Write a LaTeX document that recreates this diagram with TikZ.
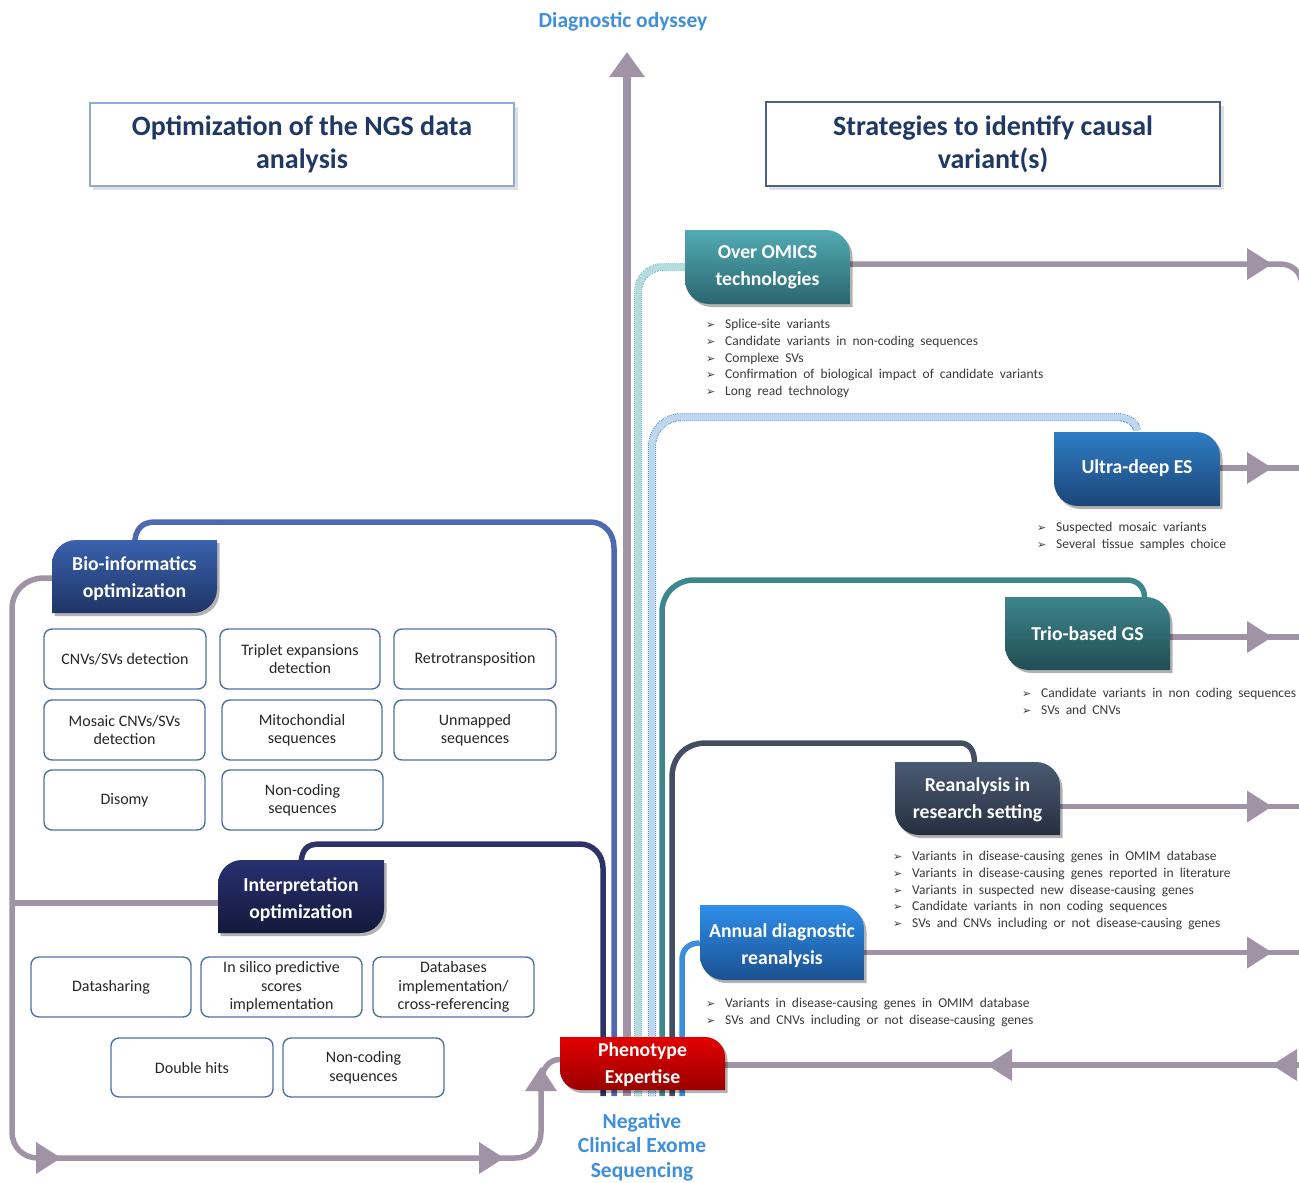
\documentclass[tikz,border=0pt]{standalone}
\usepackage{fontspec}
\setmainfont{Carlito}
\newfontfamily\dejavu{DejaVu Sans}
\newfontfamily\bulfont[WordSpace=2]{Carlito}
\usetikzlibrary{arrows.meta}
\pgfdeclarelayer{lines}
\pgfdeclarelayer{boxes}
\pgfsetlayers{lines,boxes,main}

\definecolor{greyc}{HTML}{A093A5}
\definecolor{navyT}{HTML}{1F3864}
\definecolor{skyT}{HTML}{3F8FDB}
\definecolor{sbc}{HTML}{4F72A6}
\definecolor{ttlA}{HTML}{8EAADB}
\definecolor{ttlB}{HTML}{4A5F96}
\definecolor{bioL}{HTML}{4E69AF}
\definecolor{bioT}{HTML}{3A62AE}
\definecolor{bioB}{HTML}{1F3566}
\definecolor{intL}{HTML}{2D3366}
\definecolor{intT}{HTML}{283070}
\definecolor{intB}{HTML}{141A3C}
\definecolor{omT}{HTML}{52ABB3}
\definecolor{omB}{HTML}{2B666F}
\definecolor{omL}{HTML}{B4DCDF}
\definecolor{omD}{HTML}{6DB4BB}
\definecolor{ulT}{HTML}{2F7DC4}
\definecolor{ulB}{HTML}{1C4678}
\definecolor{ulL}{HTML}{BFD7EE}
\definecolor{ulD}{HTML}{4F8FD0}
\definecolor{trT}{HTML}{3D868C}
\definecolor{trB}{HTML}{214D53}
\definecolor{trL}{HTML}{3E878D}
\definecolor{reT}{HTML}{4B5B73}
\definecolor{reB}{HTML}{262F40}
\definecolor{reL}{HTML}{434E63}
\definecolor{anT}{HTML}{2E8FEA}
\definecolor{anB}{HTML}{1B5090}
\definecolor{anL}{HTML}{3A8EDC}
\definecolor{phT}{HTML}{E30000}
\definecolor{phB}{HTML}{9A0000}
\definecolor{bulT}{HTML}{3A3A3A}

% box with top-right and bottom-left corners rounded
\newcommand\boxTR[7]{%
 \begin{scope}[shift={(2.5,3)}]
 \fill[black,opacity=.3] (#1,#2) -- (#3-#5,#2) .. controls (#3-0.45*#5,#2) and (#3,#2+0.45*#5) .. (#3,#2+#5) -- (#3,#4) -- (#1+#5,#4) .. controls (#1+0.45*#5,#4) and (#1,#4-0.45*#5) .. (#1,#4-#5) -- cycle;
 \end{scope}
 \shade[top color=#6,bottom color=#7] (#1,#2) -- (#3-#5,#2) .. controls (#3-0.45*#5,#2) and (#3,#2+0.45*#5) .. (#3,#2+#5) -- (#3,#4) -- (#1+#5,#4) .. controls (#1+0.45*#5,#4) and (#1,#4-0.45*#5) .. (#1,#4-#5) -- cycle;}
% box with top-left and bottom-right corners rounded
\newcommand\boxTL[7]{%
 \begin{scope}[shift={(2.5,3)}]
 \fill[black,opacity=.3] (#1,#2+#5) .. controls (#1,#2+0.45*#5) and (#1+0.45*#5,#2) .. (#1+#5,#2) -- (#3,#2) -- (#3,#4-#5) .. controls (#3,#4-0.45*#5) and (#3-0.45*#5,#4) .. (#3-#5,#4) -- (#1,#4) -- cycle;
 \end{scope}
 \shade[top color=#6,bottom color=#7] (#1,#2+#5) .. controls (#1,#2+0.45*#5) and (#1+0.45*#5,#2) .. (#1+#5,#2) -- (#3,#2) -- (#3,#4-#5) .. controls (#3,#4-0.45*#5) and (#3-0.45*#5,#4) .. (#3-#5,#4) -- (#1,#4) -- cycle;}
\newcommand\dotline[3]{%
 \draw[#2, line width=8pt, dash pattern=on 1pt off 1pt] #3;
 \draw[#1, line width=6pt] #3;}
\newcommand\tipR[2]{\fill[greyc] (#1,#2) -- (#1-25,#2-16) -- (#1-25,#2+16) -- cycle;}
\newcommand\tipL[2]{\fill[greyc] (#1,#2) -- (#1+25,#2-16) -- (#1+25,#2+16) -- cycle;}
\newcommand\tipU[2]{\fill[greyc] (#1,#2) -- (#1-16,#2+24) -- (#1+16,#2+24) -- cycle;}
\newcommand\bul{\makebox[19pt][l]{\dejavu\fontsize{11}{11}\selectfont ➢}}

\begin{document}
\begin{tikzpicture}[x=1pt,y=-1pt,
  hdr/.style={text=white, font=\bfseries\fontsize{19.7}{27}\selectfont, align=center, inner sep=0pt, minimum width=165pt, minimum height=73pt},
  sbox/.style={draw=sbc, line width=1.4pt, rounded corners=8pt, fill=white, minimum width=161pt, minimum height=60pt, align=center, font=\fontsize{16}{18.5}\selectfont, inner sep=2pt, text=black!85},
  ttl/.style={font=\bfseries\fontsize{28}{33}\selectfont, text=navyT, align=center, fill=white, line width=1.3pt, inner sep=0pt},
  blist/.style={anchor=north west, align=left, inner sep=0pt, text=bulT, font=\bulfont\fontsize{13.5}{16.75}\selectfont},
  colline/.style={draw=#1, line width=5.5pt},
  greyline/.style={draw=greyc, line width=5.5pt},
  mainline/.style={draw=greyc, line width=8pt, -{Triangle[length=25pt,width=34pt]}}
]
\useasboundingbox (0,0) rectangle (1299,1183);

% ---------- titles ----------
\node[ttl, draw=ttlA, minimum width=424pt, minimum height=83pt] (tleft) at (302,144.5) {Optimization of the NGS data\\analysis};
\node[ttl, draw=ttlB, minimum width=454pt, minimum height=84pt] (tright) at (993,144) {Strategies to identify causal\\variant(s)};
\node[font=\bfseries\fontsize{21.5}{24}\selectfont, text=skyT] (odys) at (623,22) {Diagnostic odyssey};
\coordinate (odtip) at (627,52);

% ---------- coloured boxes (text) ----------
\node[hdr] (omics) at (767.5,267) {Over OMICS\\technologies};
\node[hdr, minimum width=166pt, minimum height=74pt] (ultra) at (1137,468) {Ultra-deep ES};
\node[hdr] (trio) at (1087.5,634) {Trio-based GS};
\node[hdr] (rean) at (977.5,799.5) {Reanalysis in\\research setting};
\node[hdr, minimum width=164pt, minimum height=75pt] (annual) at (782,946) {Annual diagnostic\\reanalysis};
\node[hdr, minimum height=53pt] (phen) at (642.5,1065) {Phenotype\\Expertise};
\node[hdr] (bio) at (134.5,579) {Bio-informatics\\optimization};
\node[hdr, minimum width=166pt] (interp) at (301,899.5) {Interpretation\\optimization};

\node[font=\bfseries\fontsize{21.5}{24.5}\selectfont, text=skyT, align=center] (neg) at (642,1147) {Negative\\Clinical Exome\\Sequencing};

% ---------- small boxes ----------
\node[sbox, minimum width=162pt] (b11) at (125,659) {CNVs/SVs detection};
\node[sbox, minimum width=160pt] (b12) at (300,659) {Triplet expansions\\detection};
\node[sbox, minimum width=162pt] (b13) at (475,659) {Retrotransposition};
\node[sbox] (b21) at (124.5,730) {Mosaic CNVs/SVs\\detection};
\node[sbox, minimum width=160pt] (b22) at (302,730) {Mitochondial\\sequences};
\node[sbox, minimum width=162pt] (b23) at (475,730) {Unmapped\\sequences};
\node[sbox] (b31) at (124.5,800) {Disomy};
\node[sbox] (b32) at (302.5,800) {Non-coding\\sequences};

\node[sbox, minimum width=160pt] (i11) at (111,987) {Datasharing};
\node[sbox] (i12) at (281.5,987) {In silico predictive\\scores\\implementation};
\node[sbox] (i13) at (453.5,987) {Databases\\implementation/\\cross-referencing};
\node[sbox, minimum width=162pt, minimum height=59pt] (i21) at (192,1067.5) {Double hits};
\node[sbox, minimum height=59pt] (i22) at (363.5,1067.5) {Non-coding\\sequences};

% ---------- bullet lists ----------
\node[blist] (lo) at (706,319) {\bul Splice-site variants\\\bul Candidate variants in non-coding sequences\\\bul Complexe SVs\\\bul Confirmation of biological impact of candidate variants\\\bul Long read technology};
\node[blist] (lu) at (1037,522) {\bul Suspected mosaic variants\\\bul Several tissue samples choice};
\node[blist] (lt) at (1022,688) {\bul Candidate variants in non coding sequences\\\bul SVs and CNVs};
\node[blist] (lr) at (893,851) {\bul Variants in disease-causing genes in OMIM database\\\bul Variants in disease-causing genes reported in literature\\\bul Variants in suspected new disease-causing genes\\\bul Candidate variants in non coding sequences\\\bul SVs and CNVs including or not disease-causing genes};
\node[blist] (la) at (706,998) {\bul Variants in disease-causing genes in OMIM database\\\bul SVs and CNVs including or not disease-causing genes};

% ---------- end points ----------
\coordinate (edge) at (1300,0);
\coordinate (bN) at (603,1096);
\coordinate (bB) at (614,1096);
\coordinate (bG) at (627,1096);
\coordinate (bO) at (638,1096);
\coordinate (bU) at (652,1096);
\coordinate (bT) at (662,1096);
\coordinate (bR) at (672,1096);
\coordinate (bA) at (682,1096);
\coordinate (lbr) at (12,903);
\coordinate (bioL0) at (52,578);
\coordinate (phL0) at (560,1059.5);

% ---------- box shapes ----------
\begin{pgfonlayer}{boxes}
 \fill[black,opacity=.12] (93,107) rectangle (518,190);
 \fill[black,opacity=.12] (769,106) rectangle (1224,190);
 \boxTR{685}{230}{850}{304}{24}{omT}{omB}
 \boxTR{1054}{432}{1220}{506}{24}{ulT}{ulB}
 \boxTR{1005}{597}{1170}{670}{24}{trT}{trB}
 \boxTR{895}{762}{1060}{835}{24}{reT}{reB}
 \boxTR{700}{905}{864}{980}{24}{anT}{anB}
 \boxTR{560}{1037}{725}{1090}{20}{phT}{phB}
 \boxTL{52}{540}{217}{613}{24}{bioT}{bioB}
 \boxTL{218}{860}{384}{933}{24}{intT}{intB}
\end{pgfonlayer}

% ---------- connectors ----------
\begin{pgfonlayer}{lines}
 \fill[white] (0,0) rectangle (1299,1183);
 \draw[colline=intL] ([yshift=-4pt]interp.north) .. controls (301,849) and (307,844) .. (320,844) -- (580,844) .. controls (593,844) and (603,855) .. (603,868) -- (bN);
 \draw[colline=bioL] ([yshift=-4pt]bio.north) .. controls (134.5,529) and (142,522) .. (155,522) -- (590,522) .. controls (604,522) and (614,533) .. (614,548) -- (bB);
 \draw[mainline] (bG) -- (odtip);
 \dotline{omL}{omD}{(bO) -- (638,292) .. controls (638,278) and (649,267) .. (663,267) -- (omics.west)}
 \dotline{ulL}{ulD}{(bU) -- (652,447) .. controls (652,430) and (665,417) .. (682,417) -- (1117,417) .. controls (1129,417) and (1137,424) .. (ultra.north)}
 \draw[colline=trL] (bT) -- (662,612) .. controls (662,594) and (676,580) .. (694,580) -- (1127,580) .. controls (1138,580) and (1144.5,588) .. ([xshift=57pt]trio.north);
 \draw[colline=reL] (bR) -- (672,777) .. controls (672,757) and (686,743) .. (706,743) -- (960,743) .. controls (969,743) and (974.5,750) .. ([xshift=-3pt]rean.north);
 \draw[colline=anL] (bA) -- (682,960) .. controls (682,950) and (688,943) .. ([yshift=3pt]annual.west);

 % right side
 \draw[greyline] ([yshift=3pt]omics.east) -- (1280,264) .. controls (1292,264) and (1302,272) .. (1302,286);
 \draw[greyline] (ultra.east) -- (ultra.east -| edge);
 \draw[greyline] ([yshift=-3pt]trio.east) -- ([yshift=-3pt]trio.east -| edge);
 \draw[greyline] ([yshift=-7pt]rean.east) -- ([yshift=-7pt]rean.east -| edge);
 \draw[greyline] ([yshift=-6.5pt]annual.east) -- ([yshift=-6.5pt]annual.east -| edge);
 \draw[greyline] (phen.east -| edge) -- (phen.east);
 \tipR{1272}{264}
 \tipR{1272}{468}
 \tipR{1272}{637}
 \tipR{1272}{806.5}
 \tipR{1272}{952.5}
 \tipL{987}{1065}
 \tipL{1272}{1065}

 % left side
 \draw[greyline] (bioL0) -- (44,578) .. controls (26,578) and (12,591) .. (12,609) -- (12,1132) .. controls (12,1147) and (23,1158) .. (38,1158) -- (515,1158) .. controls (530,1158) and (541,1147) .. (541,1132) -- (541,1085) .. controls (541,1070) and (548,1059.5) .. (phL0);
 \draw[greyline] (lbr) -- (interp.west |- lbr);
 \tipR{61}{1158}
 \tipR{504}{1158}
 \tipU{541}{1067}
\end{pgfonlayer}
\end{tikzpicture}
\end{document}
